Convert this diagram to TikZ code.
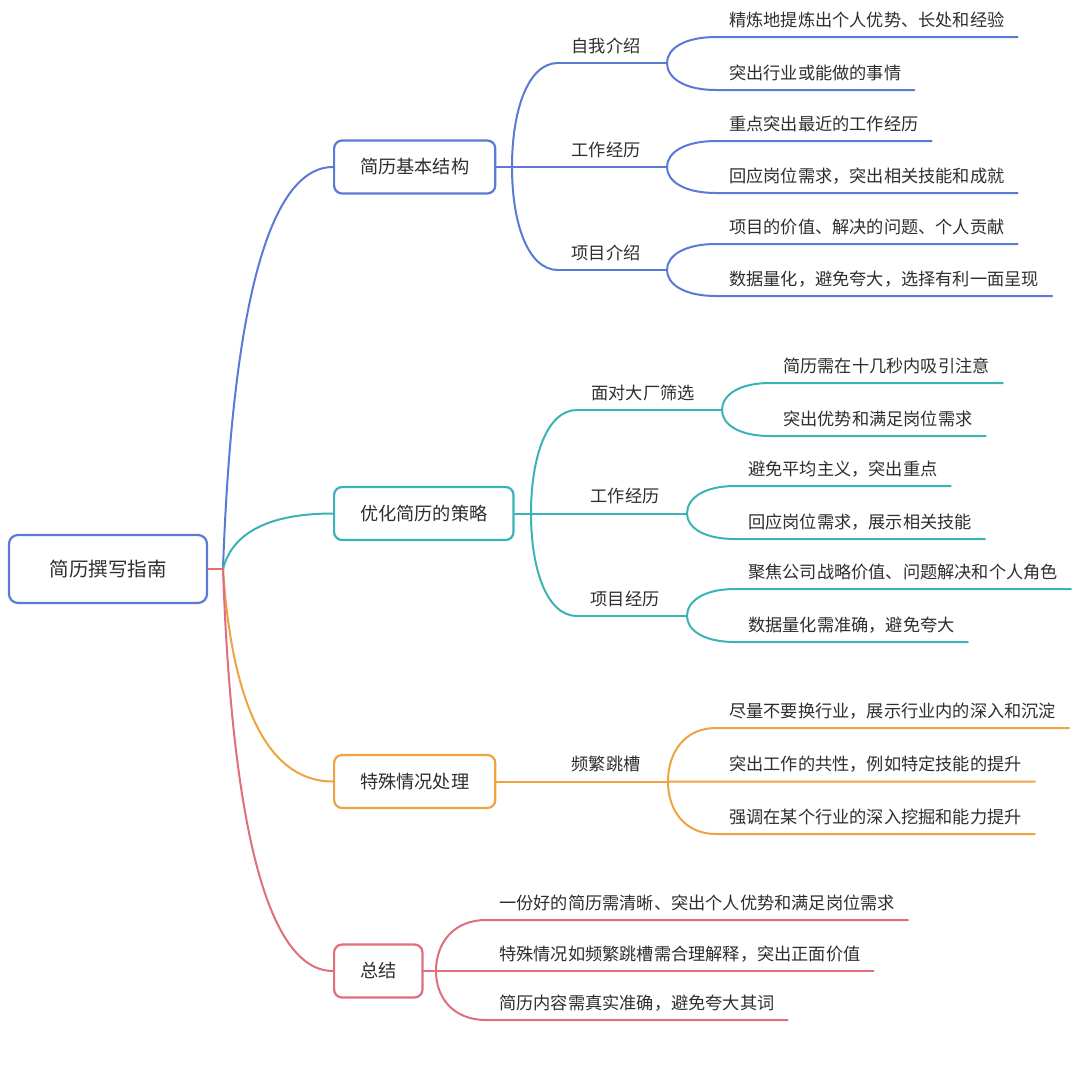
\documentclass[tikz,border=0pt]{standalone}
\usepackage{fontspec}
\setmainfont{Noto Sans CJK SC}
\usetikzlibrary{calc}
\definecolor{cblue}{HTML}{5A7AD6}
\definecolor{cteal}{HTML}{3AB3B6}
\definecolor{corange}{HTML}{EFA444}
\definecolor{cred}{HTML}{E06E7C}
\definecolor{croot}{HTML}{EA6B6B}
\definecolor{ctext}{HTML}{2E2E2E}
\newcommand{\mcurve}[3]{\draw[#1] (#2) .. controls ($(#2)!0.55!(#2|-#3)$) and ($(#2|-#3)!0.35!(#3)$) .. (#3);}
\newcommand{\rcurve}[3]{\draw[#1] (#2) .. controls ($(#2)!0.5!(#2|-#3)+(7,0)$) and ($(#2|-#3)!0.3!(#3)$) .. (#3);}
\newcommand{\leafline}[3]{\draw[#1,ln] (#2) .. controls ($(#2)!0.55!(#2|-#3.south west)$) and ($(#2|-#3.south west)!0.35!(#3.south west)$) .. (#3.south west) -- (#3.south east);}
\begin{document}
\begin{tikzpicture}[x=1pt,y=-1pt, line cap=round, line join=round,
 box/.style={draw, rounded corners=8pt, line width=2.2pt, fill=white, text=ctext, minimum height=53pt, inner xsep=26pt, anchor=west, font=\fontsize{18.2}{18.2}\selectfont},
 lbl/.style={text=ctext, font=\fontsize{17.2}{17.2}\selectfont, text depth=0pt, inner ysep=10.5pt, inner xsep=13pt},
 leaf/.style={lbl, anchor=south west},
 mid/.style={lbl, anchor=south, inner xsep=0pt},
 ln/.style={line width=2pt}]
\useasboundingbox[fill=white] (0,0) rectangle (1080,1088);

% root
\node[draw=cblue, rounded corners=9pt, line width=2.2pt, minimum width=198pt, minimum height=68pt, font=\fontsize{19.5}{19.5}\selectfont, text=ctext] (root) at (108,569) {简历撰写指南};
\coordinate (rj) at (223,569);

% level 1
\node[box, draw=cblue] (b) at (333,167) {简历基本结构};
\node[box, draw=cteal] (t) at (333,513.5) {优化简历的策略};
\node[box, draw=corange] (o) at (333,781.5) {特殊情况处理};
\node[box, draw=cred] (r) at (333,971) {总结};

\rcurve{cblue,ln}{rj}{b.west}
\rcurve{cteal,ln}{rj}{t.west}
\rcurve{corange,ln}{rj}{o.west}
\rcurve{cred,ln}{rj}{r.west}
\draw[croot,ln] (root.east) -- (rj);

% ---- blue branch
\coordinate (bj) at (512,167);
\draw[cblue,ln] (b.east) -- (bj);
\node[mid] (b1) at (606,63) {自我介绍};
\node[mid] (b2) at (606,167) {工作经历};
\node[mid] (b3) at (606,270) {项目介绍};
\coordinate (b1s) at (558,63); \coordinate (b1j) at (667,63);
\coordinate (b2j) at (667,167);
\coordinate (b3s) at (558,270); \coordinate (b3j) at (667,270);
\mcurve{cblue,ln}{bj}{b1s}
\draw[cblue,ln] (b1s) -- (b1j);
\draw[cblue,ln] (bj) -- (b2j);
\mcurve{cblue,ln}{bj}{b3s}
\draw[cblue,ln] (b3s) -- (b3j);
\node[leaf] (b1a) at (716,37) {精炼地提炼出个人优势、长处和经验};
\node[leaf] (b1b) at (716,90) {突出行业或能做的事情};
\node[leaf] (b2a) at (716,141) {重点突出最近的工作经历};
\node[leaf] (b2b) at (716,193) {回应岗位需求，突出相关技能和成就};
\node[leaf] (b3a) at (716,244) {项目的价值、解决的问题、个人贡献};
\node[leaf] (b3b) at (716,296) {数据量化，避免夸大，选择有利一面呈现};
\leafline{cblue}{b1j}{b1a}
\leafline{cblue}{b1j}{b1b}
\leafline{cblue}{b2j}{b2a}
\leafline{cblue}{b2j}{b2b}
\leafline{cblue}{b3j}{b3a}
\leafline{cblue}{b3j}{b3b}

% ---- teal branch
\coordinate (tj) at (531,513.5);
\draw[cteal,ln] (t.east) -- (tj);
\node[mid] (t1) at (643,410) {面对大厂筛选};
\node[mid] (t2) at (625,513.5) {工作经历};
\node[mid] (t3) at (625,616) {项目经历};
\coordinate (t1s) at (577,410); \coordinate (t1j) at (722,410);
\coordinate (t2j) at (687,513.5);
\coordinate (t3s) at (577,616); \coordinate (t3j) at (687,616);
\mcurve{cteal,ln}{tj}{t1s}
\draw[cteal,ln] (t1s) -- (t1j);
\draw[cteal,ln] (tj) -- (t2j);
\mcurve{cteal,ln}{tj}{t3s}
\draw[cteal,ln] (t3s) -- (t3j);
\node[leaf] (t1a) at (770,383) {简历需在十几秒内吸引注意};
\node[leaf] (t1b) at (770,436) {突出优势和满足岗位需求};
\node[leaf] (t2a) at (735,486) {避免平均主义，突出重点};
\node[leaf] (t2b) at (735,539) {回应岗位需求，展示相关技能};
\node[leaf] (t3a) at (735,589) {聚焦公司战略价值、问题解决和个人角色};
\node[leaf] (t3b) at (735,642) {数据量化需准确，避免夸大};
\leafline{cteal}{t1j}{t1a}
\leafline{cteal}{t1j}{t1b}
\leafline{cteal}{t2j}{t2a}
\leafline{cteal}{t2j}{t2b}
\leafline{cteal}{t3j}{t3a}
\leafline{cteal}{t3j}{t3b}

% ---- orange branch
\node[mid] (o1) at (606,781.5) {频繁跳槽};
\coordinate (oj) at (668,781.5);
\draw[corange,ln] (o.east) -- (oj);
\node[leaf] (o1a) at (716,728) {尽量不要换行业，展示行业内的深入和沉淀};
\node[leaf] (o1b) at (716,781.5) {突出工作的共性，例如特定技能的提升};
\node[leaf] (o1c) at (716,834) {强调在某个行业的深入挖掘和能力提升};
\leafline{corange}{oj}{o1a}
\leafline{corange}{oj}{o1b}
\leafline{corange}{oj}{o1c}

% ---- red branch
\coordinate (rrj) at (436,971);
\draw[cred,ln] (r.east) -- (rrj);
\node[leaf] (r1) at (486,920) {一份好的简历需清晰、突出个人优势和满足岗位需求};
\node[leaf] (r2) at (486,971) {特殊情况如频繁跳槽需合理解释，突出正面价值};
\node[leaf] (r3) at (486,1020) {简历内容需真实准确，避免夸大其词};
\leafline{cred}{rrj}{r1}
\leafline{cred}{rrj}{r2}
\leafline{cred}{rrj}{r3}
\end{tikzpicture}
\end{document}
